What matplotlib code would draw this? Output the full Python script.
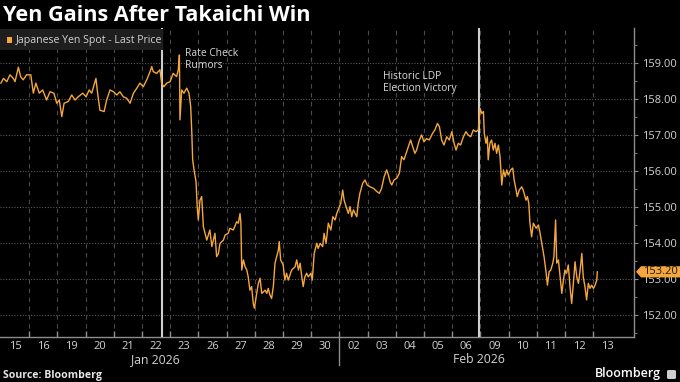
import numpy as np
import matplotlib
matplotlib.use("Agg")
import matplotlib.pyplot as plt
from matplotlib import transforms as mtrans
from matplotlib.patches import Polygon, Rectangle, FancyBboxPatch

# ---------------- data (time in trading days since 15 Jan session start) -------------
t = [0.00, 0.09, 0.21, 0.32, 0.44, 0.50, 0.62, 0.70, 0.79, 0.91,
     1.06, 1.15, 1.24, 1.36, 1.48, 1.62, 1.74, 1.88, 1.98, 2.07,
     2.16, 2.24, 2.39, 2.51, 2.63, 2.74, 2.90, 3.02, 3.13, 3.22,
     3.37, 3.43, 3.51, 3.66, 3.75,
     3.87, 3.99, 4.11, 4.22, 4.34, 4.46, 4.58, 4.70, 4.82, 4.93,
     5.05, 5.17, 5.29, 5.35, 5.40, 5.52, 5.64, 5.70, 5.78, 5.88,
     6.00, 6.11, 6.23, 6.29, 6.33, 6.35, 6.41, 6.49, 6.59, 6.67,
     6.73, 6.77, 6.80, 6.85, 6.92, 6.96, 7.00, 7.06, 7.12, 7.18,
     7.30, 7.41, 7.48, 7.59,
     7.65, 7.71, 7.77, 7.89, 7.95, 8.06, 8.12, 8.24, 8.36, 8.42,
     8.48, 8.51, 8.54, 8.60, 8.66, 8.72, 8.77, 8.83, 8.89, 8.95,
     8.99, 9.07, 9.13, 9.19, 9.25, 9.37, 9.43, 9.48, 9.54, 9.60,
     9.66, 9.72, 9.78, 9.84, 9.87, 9.92, 10.01, 10.07, 10.13, 10.19,
     10.31, 10.43, 10.49, 10.55, 10.61, 10.67, 10.72, 10.78, 10.84, 10.90,
     10.99, 11.04, 11.11, 11.20, 11.25,
     11.32, 11.41, 11.46, 11.53, 11.61, 11.70, 11.77, 11.85, 11.91, 11.96,
     12.05, 12.12, 12.17, 12.24, 12.32, 12.38, 12.44, 12.50, 12.56, 12.62,
     12.67, 12.73, 12.83, 12.91, 12.99, 13.09, 13.21, 13.33, 13.42, 13.50,
     13.59, 13.68, 13.74, 13.80, 13.86, 13.94, 14.04, 14.13, 14.21, 14.29,
     14.37, 14.45, 14.53, 14.60, 14.68, 14.74, 14.84, 14.92, 15.00, 15.10, 15.19,
     15.31, 15.39, 15.48, 15.55, 15.63, 15.71, 15.81, 15.90, 15.99, 16.07,
     16.14, 16.22, 16.30, 16.40, 16.49, 16.57, 16.66, 16.75, 16.85, 16.93,
     16.99, 17.05, 17.11, 17.14, 17.20, 17.25, 17.28, 17.34, 17.40, 17.46,
     17.52, 17.58, 17.64, 17.70, 17.76, 17.82, 17.88, 17.94, 17.99, 18.08,
     18.15, 18.20, 18.27, 18.31, 18.38, 18.47, 18.52, 18.62, 18.67, 18.72,
     18.76, 18.82, 18.88, 18.98, 19.06,
     19.12, 19.18, 19.26, 19.33, 19.38, 19.44, 19.50, 19.57, 19.61, 19.67,
     19.71, 19.77, 19.83, 19.89, 19.94, 20.00, 20.06, 20.12, 20.18, 20.24,
     20.30, 20.36, 20.42, 20.48, 20.54, 20.60, 20.65, 20.71, 20.77, 20.83,
     20.89, 20.95, 21.01, 21.07, 21.13, 21.15]

price = [158.44, 158.57, 158.48, 158.67, 158.57, 158.48, 158.88, 158.62, 158.53, 158.67,
         158.67, 158.16, 158.44, 158.16, 158.25, 157.97, 158.20, 158.16, 157.88, 157.97,
         157.51, 157.88, 157.93, 158.11, 157.97, 158.06, 158.16, 158.06, 158.25, 158.16,
         158.57, 158.16, 157.69, 157.65, 157.97,
         158.25, 158.20, 158.11, 158.20, 158.06, 158.02, 157.88, 158.16, 158.30, 158.44,
         158.34, 158.53, 158.76, 158.90, 158.76, 158.71, 158.81, 158.44, 158.34, 158.44,
         158.48, 158.71, 158.62, 158.81, 159.22, 157.42, 158.25, 158.16, 158.30, 158.16,
         157.79, 157.05, 156.31, 156.03, 155.70, 155.01, 154.64, 155.19, 155.29, 154.45,
         154.08, 154.36, 153.90, 154.27,
         153.62, 153.70, 153.99, 154.08, 154.22, 154.27, 154.41, 154.36, 154.59, 154.55,
         154.82, 154.55, 153.25, 153.53, 153.34, 153.25, 153.06, 152.69, 152.79, 152.32,
         152.19, 152.60, 152.88, 153.02, 152.60, 152.69, 152.60, 152.74, 152.56, 152.46,
         152.79, 153.44, 153.62, 153.81, 154.04, 153.53, 153.39, 152.97, 153.16, 152.97,
         153.25, 153.34, 153.53, 153.25, 153.44, 153.06, 152.79, 153.06, 153.16, 153.06,
         153.16, 152.97, 153.71, 153.99, 153.85,
         153.99, 153.90, 154.27, 153.99, 154.55, 154.36, 154.73, 154.64, 154.82, 154.92,
         155.10, 155.47, 155.19, 155.01, 154.82, 155.01, 154.73, 154.92, 154.82, 154.73,
         155.10, 155.38, 155.66, 155.75, 155.61, 155.56, 155.52, 155.43, 155.38, 155.52,
         155.84, 156.03, 155.89, 155.70, 155.61, 155.75, 155.80, 155.94, 156.40, 156.31,
         156.49, 156.68, 156.86, 156.68, 156.49, 156.58, 156.86, 157.00, 156.81, 156.90, 156.86,
         157.05, 157.14, 157.32, 157.23, 156.86, 156.72, 156.95, 156.86, 157.09, 156.77,
         156.58, 156.77, 156.72, 156.95, 157.09, 157.00, 156.95, 157.14, 157.09, 157.14,
         157.74, 157.60, 157.65, 157.05, 156.77, 156.95, 156.31, 156.77, 156.86, 156.58,
         156.77, 156.49, 156.72, 156.40, 155.61, 156.03, 155.84, 156.03, 155.89, 156.03,
         156.08, 155.75, 155.47, 155.29, 155.47, 155.56, 155.47, 155.19, 155.29, 155.10,
         154.55, 154.17, 154.55, 154.41, 154.50,
         154.27, 153.99, 153.62, 153.20, 152.83, 153.20, 153.25, 153.44, 153.62, 154.64,
         153.44, 153.53, 153.06, 152.60, 152.93, 153.25, 153.16, 153.39, 152.79, 152.32,
         152.88, 153.48, 153.06, 152.88, 153.25, 153.71, 153.06, 152.79, 152.42, 152.88,
         152.74, 152.83, 152.74, 152.83, 152.97, 153.20]

day_labels = ["15", "16", "19", "20", "21", "22", "23", "26", "27", "28", "29", "30",
              "02", "03", "04", "05", "06", "09", "10", "11", "12", "13"]
month_labels = ["Jan 2026", "Feb 2026"]
month_label_pos = [5.46, 16.95]
month_break = 12
event_t = [5.73, 16.96]
event_text = ["Rate Check\nRumors", "Historic LDP\nElection Victory"]
event_text_pos = [(6.53, 159.19), (13.55, 158.55)]
y_ticks = [152, 153, 154, 155, 156, 157, 158, 159]
series_name = "Japanese Yen Spot - Last Price"
title = "Yen Gains After Takaichi Win"
source = "Source: Bloomberg"

assert len(t) == len(price)

# ---------------- style ----------------
plt.rcParams['font.family'] = ['Open Sans', 'DejaVu Sans']
ORANGE = '#f5a73c'
GRID = '#4a4a4a'
AXIS = '#8c8c8c'
TXT = '#d2d2d2'

W, H = 680, 382
fig = plt.figure(figsize=(W / 100, H / 100), dpi=100, facecolor='black')
ax = fig.add_axes([0, 45 / H, 634 / W, 309 / H])
ax.set_facecolor('black')
ax.set_xlim(-0.032, 22.45)
ax.set_ylim(151.39, 159.97)

# gridlines
n_days = len(day_labels)
bounds = np.arange(1, n_days)
ax.set_xticks(bounds)
ax.set_xticklabels([])
ax.set_xticks(np.arange(n_days) + 0.5, minor=True)
ax.set_xticklabels(day_labels, minor=True)
ax.tick_params(axis='x', which='major', direction='in', length=4, color=AXIS, width=1)
ax.tick_params(axis='x', which='minor', length=0, pad=3, labelsize=8, labelcolor=TXT)
ax.grid(axis='x', which='major', color=GRID, linestyle=(0, (4, 4)), lw=0.8)

ax.yaxis.tick_right()
ax.set_yticks(y_ticks)
ax.set_yticklabels([f"{v:.2f}" for v in y_ticks])
ax.set_yticks(np.arange(151.5, 160, 1.0), minor=True)
ax.tick_params(axis='y', which='major', direction='out', length=3, color=AXIS,
               pad=3, labelsize=8, labelcolor=TXT)
ax.tick_params(axis='y', which='minor', direction='out', length=2, color=AXIS)
ax.grid(axis='y', which='major', color='#5a5a5a', linestyle=(0, (1, 1.5)), lw=0.8)

for s in ['top', 'left']:
    ax.spines[s].set_visible(False)
for s in ['right', 'bottom']:
    ax.spines[s].set_color(AXIS)
    ax.spines[s].set_linewidth(1)

# events
for te in event_t:
    ax.axvline(te, color='#cfcfcf', lw=1.5, zorder=3)

# series
ax.plot(t, price, color=ORANGE, lw=1.0, zorder=4)

# event texts (line by line)
for (xt, yt), txt in zip(event_text_pos, event_text):
    for i, line in enumerate(txt.split("\n")):
        tr = mtrans.offset_copy(ax.transData, fig=fig, x=0, y=-i * 11.7 * 0.72, units='points')
        ax.text(xt, yt, line, transform=tr, color='#d9d9d9', fontsize=7.4,
                va='baseline', ha='left', zorder=5)

# month labels and separator
blend = mtrans.blended_transform_factory(ax.transData, ax.transAxes)
for pos, lab in zip(month_label_pos, month_labels):
    ax.text(pos, -26 / 309, lab, transform=blend, ha='center', va='baseline',
            color=TXT, fontsize=8.8)
ax.plot([month_break, month_break], [0, -28 / 309], transform=blend, color=AXIS,
        lw=1, clip_on=False)

# last price tag
last = price[-1]
bt = mtrans.blended_transform_factory(ax.transAxes, ax.transData)
hh = 5.6 / 36
poly = Polygon([(636 / 634, last), (641 / 634, last + hh), (680 / 634, last + hh),
                (680 / 634, last - hh), (641 / 634, last - hh)], closed=True,
               transform=bt, facecolor=ORANGE, edgecolor='none', clip_on=False, zorder=10)
ax.add_patch(poly)
ax.text(660.5 / 634, last, f"{last:.2f}", transform=bt, ha='center', va='center',
        color='#1a1a1a', fontsize=8, zorder=11, clip_on=False)

# legend box
fig.add_artist(Rectangle((0, (H - 50) / H), 163 / W, 21 / H, transform=fig.transFigure,
                         facecolor='#1e1e1e', edgecolor='none', zorder=5))
fig.add_artist(Rectangle((6.7 / W, (H - 43) / H), 5.6 / W, 6 / H, transform=fig.transFigure,
                         facecolor=ORANGE, edgecolor='none', zorder=6))
fig.text(15.5 / W, (H - 40) / H, series_name, color=TXT, fontsize=7.6, va='center',
         ha='left', zorder=7)

# title / footer
fig.text(3 / W, (H - 21) / H, title, color='white', fontsize=15.6, fontweight='bold',
         va='baseline', ha='left')
fig.text(3 / W, (H - 378) / H, source, color='#e6e6e6', fontsize=7.6, fontweight='bold',
         va='baseline', ha='left')
fig.text(661 / W, (H - 377.5) / H, "Bloomberg", color='white', fontsize=9,
         fontweight='semibold', va='baseline', ha='right')
fig.add_artist(FancyBboxPatch((667 / W, (H - 379) / H), 9 / W, 9 / H,
                              boxstyle='round,pad=0,rounding_size=0.003',
                              transform=fig.transFigure, facecolor='#cfcfcf',
                              edgecolor='none'))

fig.savefig('out.png', dpi=100, facecolor='black')
